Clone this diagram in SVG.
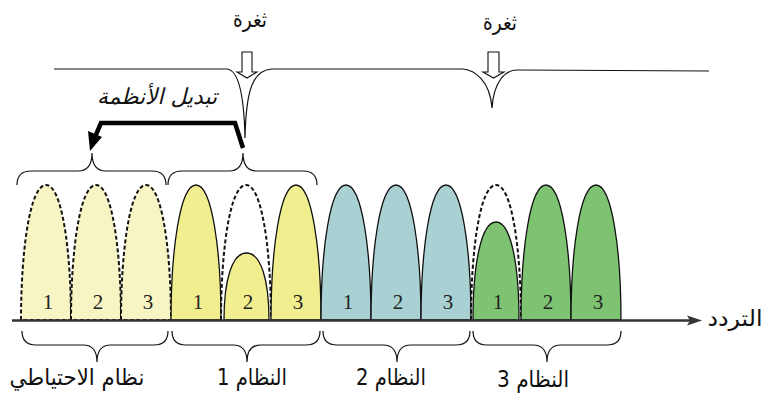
<svg xmlns="http://www.w3.org/2000/svg" width="768" height="399" viewBox="0 0 768 399">
  <style>
    .ar { font-family: "DejaVu Sans", "Noto Sans", sans-serif; fill: #111; }
    .num { font-family: "Liberation Serif", serif; font-size: 21px; fill: #222; text-anchor: middle; }
    .hump { stroke: #111; stroke-width: 1.3; }
    .dash { stroke: #111; stroke-width: 2; stroke-dasharray: 4 2.4; }
    .thin { fill: none; stroke: #111; stroke-width: 1.2; }
    .backup { fill: #F8F5C4; }
    .s1 { fill: #F0EE8E; }
    .s2 { fill: #A9D1D3; }
    .s3 { fill: #7DC372; }
  </style>

  <!-- spectrum line with the two gaps -->
  <g id="spectrum-gaps">
    <path class="thin" d="M54,69 L227,69 C238,70 244,92 245,138 C246,92 252,70 272,69 L463,69 C474,70 490,80 492,108 C494,80 506,70 517,70 L709,71"/>
    <polygon fill="#fff" stroke="#111" stroke-width="1.1" points="242,52 252,52 252,72 257,72 247,78 237,72 242,72"/>
    <polygon fill="#fff" stroke="#111" stroke-width="1.1" points="488,52 499,52 499,72 504,72 493.5,78 483,72 488,72"/>
    <text class="ar" x="250" y="27" font-size="22" text-anchor="middle" direction="rtl" textLength="34" lengthAdjust="spacingAndGlyphs">ثغرة</text>
    <text class="ar" x="500" y="30" font-size="22" text-anchor="middle" direction="rtl" textLength="34" lengthAdjust="spacingAndGlyphs">ثغرة</text>
  </g>

  <!-- backup system: three dashed channels -->
  <g id="backup-system">
    <path class="backup dash" d="M21,320 C21,250 30,185 46,185 C62,185 71,250 71,320 Z"/>
    <path class="backup dash" d="M71,320 C71,250 80,185 96,185 C112,185 121,250 121,320 Z"/>
    <path class="backup dash" d="M121,320 C121,250 130,185 146,185 C162,185 171,250 171,320 Z"/>
    <text class="num" x="48" y="309">1</text>
    <text class="num" x="98" y="309">2</text>
    <text class="num" x="148" y="309">3</text>
  </g>

  <!-- system 1 -->
  <g id="system-1">
    <path class="s1 hump" d="M171,320 C171,250 180,185 196,185 C212,185 221,250 221,320 Z"/>
    <path fill="none" class="dash" d="M221,320 C221,250 230,185 246,185 C262,185 271,250 271,320"/>
    <path class="s1 hump" d="M224,320 C224,280 232,253 246.5,253 C261,253 269,280 269,320 Z"/>
    <path class="s1 hump" d="M271,320 C271,250 280,185 296,185 C312,185 321,250 321,320 Z"/>
    <text class="num" x="198" y="309">1</text>
    <text class="num" x="248" y="309">2</text>
    <text class="num" x="298" y="309">3</text>
  </g>

  <!-- system 2 -->
  <g id="system-2">
    <path class="s2 hump" d="M321,320 C321,250 330,185 346,185 C362,185 371,250 371,320 Z"/>
    <path class="s2 hump" d="M371,320 C371,250 380,185 396,185 C412,185 421,250 421,320 Z"/>
    <path class="s2 hump" d="M421,320 C421,250 430,185 446,185 C462,185 471,250 471,320 Z"/>
    <text class="num" x="348" y="309">1</text>
    <text class="num" x="398" y="309">2</text>
    <text class="num" x="448" y="309">3</text>
  </g>

  <!-- system 3 -->
  <g id="system-3">
    <path fill="none" class="dash" d="M471,320 C471,250 480,185 496,185 C512,185 521,250 521,320"/>
    <path class="s3 hump" d="M473,320 C473,265 481,222 496,222 C511,222 519,265 519,320 Z"/>
    <path class="s3 hump" d="M521,320 C521,250 530,185 546,185 C562,185 571,250 571,320 Z"/>
    <path class="s3 hump" d="M571,320 C571,250 580,185 596,185 C612,185 621,250 621,320 Z"/>
    <text class="num" x="498" y="309">1</text>
    <text class="num" x="548" y="309">2</text>
    <text class="num" x="598" y="309">3</text>
  </g>

  <!-- frequency axis -->
  <g id="frequency-axis">
    <line x1="12" y1="320.5" x2="692" y2="320.5" stroke="#333" stroke-width="2.4"/>
    <polygon fill="#333" points="687,315.5 702,320.5 687,325.5 690,320.5"/>
    <text class="ar" x="735" y="326" font-size="22" text-anchor="middle" direction="rtl" textLength="55" lengthAdjust="spacingAndGlyphs">التردد</text>
  </g>

  <!-- braces over the backup system and system 1 -->
  <g id="top-braces">
    <path class="thin" d="M17,185 Q17,171 31,171 L78,171 Q92,171 92,153 Q92,171 106,171 L152,171 Q166,171 166,185"/>
    <path class="thin" d="M168,185 Q168,171 182,171 L229,171 Q243,171 243,153 Q243,171 257,171 L303,171 Q317,171 317,185"/>
  </g>

  <!-- braces under each system with their names -->
  <g id="bottom-braces">
    <path class="thin" d="M22,331 Q22,345 36,345 L83,345 Q97,345 97,362 Q97,345 111,345 L154,345 Q168,345 168,331"/>
    <path class="thin" d="M172,331 Q172,345 186,345 L233,345 Q247,345 247,362 Q247,345 261,345 L306,345 Q320,345 320,331"/>
    <path class="thin" d="M323,331 Q323,345 337,345 L383,345 Q397,345 397,362 Q397,345 411,345 L456,345 Q470,345 470,331"/>
    <path class="thin" d="M473,331 Q473,345 487,345 L533,345 Q547,345 547,362 Q547,345 561,345 L607,345 Q621,345 621,331"/>
    <text class="ar" x="77" y="385" font-size="23" text-anchor="middle" direction="rtl" textLength="135" lengthAdjust="spacingAndGlyphs">نظام الاحتياطي</text>
    <text class="ar" x="252" y="385" font-size="23" text-anchor="middle" direction="rtl" textLength="70" lengthAdjust="spacingAndGlyphs">النظام 1</text>
    <text class="ar" x="391" y="385" font-size="23" text-anchor="middle" direction="rtl" textLength="70" lengthAdjust="spacingAndGlyphs">النظام 2</text>
    <text class="ar" x="533" y="387" font-size="23" text-anchor="middle" direction="rtl" textLength="72" lengthAdjust="spacingAndGlyphs">النظام 3</text>
  </g>

  <!-- system switch connector -->
  <g id="connectors">
    <path d="M243,148 L235,123 L101,123 L95,137" fill="none" stroke="#000" stroke-width="4.5" stroke-linejoin="miter"/>
    <polygon fill="#000" points="88,131 102,137 90,151"/>
    <text class="ar" x="157" y="104" font-size="22" font-style="italic" text-anchor="middle" direction="rtl" textLength="120" lengthAdjust="spacingAndGlyphs">تبديل الأنظمة</text>
  </g>
</svg>
